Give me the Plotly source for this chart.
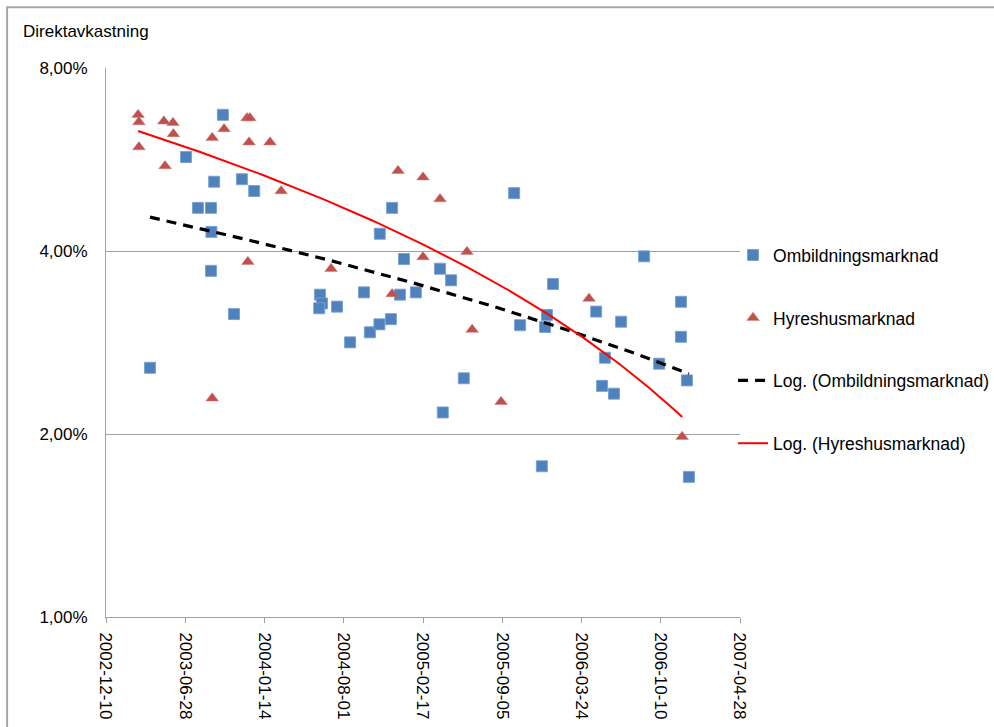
import numpy as np
import pandas as pd
import plotly.graph_objects as go

# ---------------- data ----------------
omb_dates = [
    "2003-03-31", "2003-06-30", "2003-07-30", "2003-09-01", "2003-09-02", "2003-09-01",
    "2003-09-09", "2003-10-01", "2003-10-29", "2003-11-18", "2003-12-19", "2004-06-02",
    "2004-06-07", "2004-05-31", "2004-07-15", "2004-08-17", "2004-09-21", "2004-10-06",
    "2004-10-31", "2004-10-30", "2004-12-01", "2004-11-28", "2004-12-21", "2004-12-31",
    "2005-01-30", "2005-04-01", "2005-04-08", "2005-04-29", "2005-05-31", "2005-10-05",
    "2005-10-20", "2005-12-14", "2005-12-22", "2005-12-27", "2006-01-11", "2006-04-30",
    "2006-05-22", "2006-05-15", "2006-06-14", "2006-07-02", "2006-08-29", "2006-10-06",
    "2006-11-30", "2006-11-30", "2006-12-15", "2006-12-20",
]
omb_values = [
    2.57, 5.71, 4.71, 4.71, 4.30, 3.71,
    5.20, 6.70, 3.15, 5.25, 5.02, 3.39,
    3.28, 3.22, 3.24, 2.83, 3.42, 2.94,
    4.27, 3.03, 4.71, 3.09, 3.39, 3.88,
    3.42, 3.74, 2.17, 3.58, 2.47, 4.98,
    3.02, 1.77, 3.00, 3.14, 3.53, 3.18,
    2.67, 2.40, 2.33, 3.06, 3.92, 2.61,
    3.30, 2.89, 2.45, 1.70,
]

hyr_dates = [
    "2003-03-01", "2003-03-03", "2003-03-03", "2003-05-05", "2003-05-28", "2003-05-29",
    "2003-05-08", "2003-09-04", "2003-09-04", "2003-10-04", "2003-12-01", "2003-12-08",
    "2003-12-06", "2003-12-03", "2004-01-28", "2004-02-25", "2004-06-30", "2004-12-01",
    "2004-12-16", "2005-02-17", "2005-02-17", "2005-04-01", "2005-06-08", "2005-06-21",
    "2005-09-02", "2006-04-12", "2006-12-03",
]
hyr_values = [
    6.70, 6.52, 5.93, 6.54, 6.50, 6.23,
    5.52, 6.14, 2.29, 6.35, 6.62, 6.62,
    6.04, 3.84, 6.04, 5.02, 3.74, 3.40,
    5.42, 5.29, 3.91, 4.87, 3.99, 2.97,
    2.26, 3.34, 1.98,
]

x_ticks = ["2002-12-10", "2003-06-28", "2004-01-14", "2004-08-01", "2005-02-17",
           "2005-09-05", "2006-03-24", "2006-10-10", "2007-04-28"]
y_ticks = [1, 2, 4, 8]
y_tick_text = ["1,00%", "2,00%", "4,00%", "8,00%"]

series_names = ["Ombildningsmarknad", "Hyreshusmarknad"]

EXCEL_EPOCH = pd.Timestamp("1899-12-30")


def log_trend(dates, vals, n=150):
    """Excel-style logarithmic trendline y = a*ln(x) + b over the data's x range."""
    d = pd.to_datetime(pd.Series(dates))
    s = (d - EXCEL_EPOCH).dt.days.values.astype(float)
    a, b = np.polyfit(np.log(s), np.asarray(vals, dtype=float), 1)
    grid = np.linspace(s.min(), s.max(), n)
    gd = EXCEL_EPOCH + pd.to_timedelta(grid, unit="D")
    return gd, a * np.log(grid) + b


omb_tx, omb_ty = log_trend(omb_dates, omb_values)
hyr_tx, hyr_ty = log_trend(hyr_dates, hyr_values)

FONT = "Liberation Sans, Arial, sans-serif"
GRID = "#a0a0a0"

fig = go.Figure()
fig.add_trace(go.Scatter(
    x=omb_dates, y=omb_values, mode="markers", name=series_names[0],
    legendgroup="g1",
    marker=dict(symbol="square", size=11, color="#4F81BD",
                line=dict(width=1, color="rgba(120,160,210,0.9)")),
))
fig.add_trace(go.Scatter(
    x=hyr_dates, y=hyr_values, mode="markers", name=series_names[1],
    legendgroup="g2",
    marker=dict(symbol="triangle-up", size=11, color="#C0504D",
                line=dict(width=0.5, color="rgba(210,120,118,0.9)")),
))
fig.add_trace(go.Scatter(
    x=omb_tx, y=omb_ty, mode="lines", name="Log. (" + series_names[0] + ")",
    legendgroup="g3",
    line=dict(color="black", width=3.2, dash="10px,7px"),
))
fig.add_trace(go.Scatter(
    x=hyr_tx, y=hyr_ty, mode="lines", name="Log. (" + series_names[1] + ")",
    legendgroup="g4",
    line=dict(color="#FF0000", width=2),
))

fig.update_layout(
    width=994, height=727,
    margin=dict(l=106, r=254, t=68, b=110, autoexpand=False),
    paper_bgcolor="white", plot_bgcolor="white",
    font=dict(family=FONT, size=17, color="black"),
    showlegend=True,
    legend=dict(x=0.989, xanchor="left", y=0.692, yanchor="top",
                tracegroupgap=37, font=dict(size=17.5, family=FONT),
                bgcolor="rgba(0,0,0,0)", itemwidth=30),
    xaxis=dict(
        type="date", range=[x_ticks[0], x_ticks[-1]],
        tickvals=x_ticks, ticktext=x_ticks, tickangle=90,
        ticks="outside", ticklen=5, tickcolor=GRID,
        showline=True, linecolor=GRID, linewidth=1,
        showgrid=False, zeroline=False, automargin=False,
        ticklabelstandoff=6,
        tickfont=dict(size=17, family=FONT),
    ),
    yaxis=dict(
        type="log", range=[np.log10(y_ticks[0]), np.log10(y_ticks[-1])],
        tickvals=y_ticks, ticktext=y_tick_text,
        showgrid=True, gridcolor=GRID, gridwidth=1,
        showline=True, linecolor=GRID, linewidth=1,
        ticks="", ticklabelstandoff=14, zeroline=False, automargin=False,
        tickfont=dict(size=17, family=FONT),
    ),
    annotations=[dict(
        text="Direktavkastning", xref="paper", yref="paper",
        x=-0.1345, y=1.0656, xanchor="left", yanchor="middle",
        showarrow=False, font=dict(size=17, family=FONT),
    )],
    shapes=[dict(
        type="rect", xref="paper", yref="paper",
        x0=-0.156, x1=1.6, y0=-0.5, y1=1.1106,
        line=dict(color="#a6a6a6", width=2), layer="below",
    )],
)

fig.write_html(
    "out.html",
    config={"displayModeBar": False},
    post_script="document.body.style.margin='0';document.body.style.padding='0';",
)
